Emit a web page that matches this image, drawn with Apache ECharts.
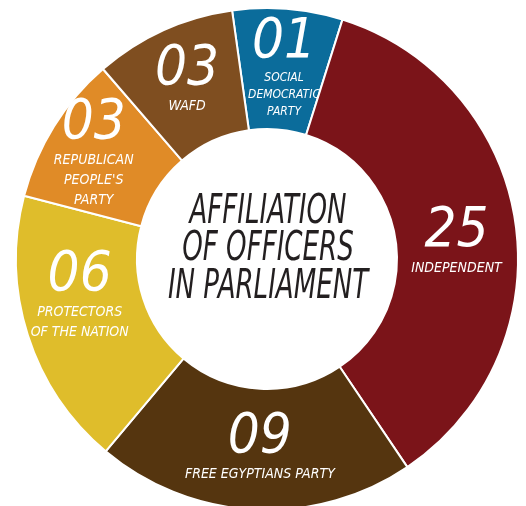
<!DOCTYPE html>
<html>
<head>
<meta charset="utf-8">
<script src="https://cdn.jsdelivr.net/npm/echarts@6/dist/echarts.min.js"></script>
<style>
html,body{margin:0;padding:0;background:#fff;}
#chart{width:526px;height:506px;}
</style>
</head>
<body>
<div id="chart"></div>
<script>
// Parties, clockwise from the top
const partyLines = [
  ['SOCIAL', 'DEMOCRATIC', 'PARTY'],
  ['INDEPENDENT'],
  ['FREE EGYPTIANS PARTY'],
  ['PROTECTORS', 'OF THE NATION'],
  ['REPUBLICAN', "PEOPLE'S", 'PARTY'],
  ['WAFD']
];
// Printed seat counts
const seats = [1, 25, 9, 6, 3, 3];
// Arc width of each slice as drawn in the infographic (degrees, not proportional to seats)
const arcDegrees = [25.5, 128.5, 74, 64.6, 34.6, 32.8];
const titleLines = ['AFFILIATION', 'OF OFFICERS', 'IN PARLIAMENT'];

const colors = ['#0b6c9b', '#7b1419', '#55350f', '#dfbd2b', '#e08b27', '#7f4e20'];
const nameStyle = ['nameSm', 'name', 'name', 'name', 'name', 'name'];
const labelNudge = [[1, 2], [-2, 10], [3, -5], [-3, -22], [-9, -3], [0, -3]];

const FONT = '"Liberation Sans Narrow", "DejaVu Sans Condensed", sans-serif';
const pad = n => (n < 10 ? '0' + n : '' + n);

const chart = echarts.init(document.getElementById('chart'), null, {renderer: 'canvas'});
chart.setOption({
  animation: false,
  backgroundColor: '#ffffff',
  series: [{
    type: 'pie',
    center: [267, 259],
    radius: [130, 251],
    startAngle: 98,
    clockwise: true,
    avoidLabelOverlap: false,
    silent: true,
    itemStyle: {borderColor: '#ffffff', borderWidth: 2},
    label: {
      show: true,
      position: 'inside',
      formatter: p => {
        const i = p.dataIndex;
        const st = nameStyle[i];
        return '{num|' + pad(seats[i]) + '}\n' +
          partyLines[i].map(l => '{' + st + '|' + l + '}').join('\n');
      },
      rich: {
        num: {fontFamily: FONT, fontSize: 56, fontStyle: 'italic', color: '#fff', lineHeight: 54, align: 'center'},
        name: {fontFamily: FONT, fontSize: 14, fontStyle: 'italic', color: '#fff', lineHeight: 20, align: 'center'},
        nameSm: {fontFamily: FONT, fontSize: 12, fontStyle: 'italic', color: '#fff', lineHeight: 17, align: 'center'}
      }
    },
    labelLine: {show: false},
    labelLayout: params => {
      const n = labelNudge[params.dataIndex];
      return {dx: n[0], dy: n[1]};
    },
    data: arcDegrees.map((v, i) => ({
      value: v,
      name: partyLines[i].join(' '),
      itemStyle: {color: colors[i]}
    }))
  }],
  graphic: [{
    type: 'text',
    x: 268,
    y: 250,
    scaleY: 1.38,
    style: {
      text: titleLines.join('\n'),
      fontFamily: FONT,
      fontSize: 29,
      fontStyle: 'italic',
      lineHeight: 27.2,
      fill: '#231f20',
      align: 'center',
      verticalAlign: 'middle'
    }
  }]
});
</script>
</body>
</html>
